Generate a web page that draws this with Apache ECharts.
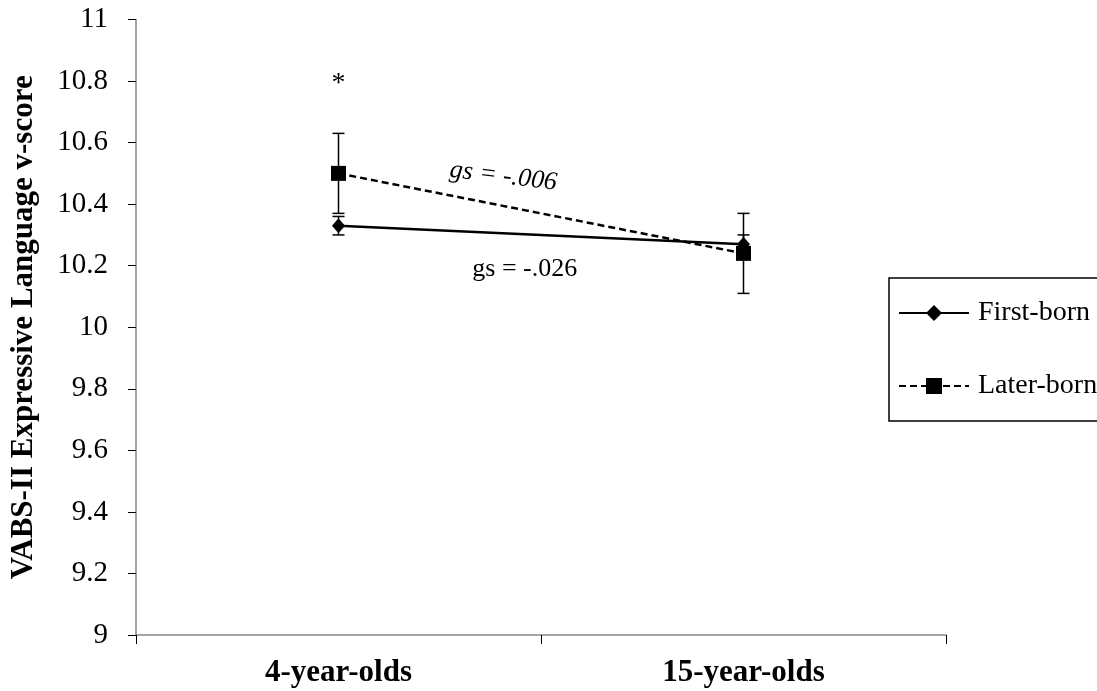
<!DOCTYPE html>
<html>
<head>
<meta charset="utf-8">
<title>VABS-II Expressive Language</title>
<script src="https://cdn.jsdelivr.net/npm/echarts@6/dist/echarts.min.js"></script>
<style>
  html, body { margin: 0; padding: 0; background: #fff; }
  #chart { width: 1097px; height: 691px; }
</style>
</head>
<body>
<div id="chart"></div>
<script>
// values
var categories = ['4-year-olds', '15-year-olds'];
var firstBorn = [10.33, 10.27];
var laterBorn = [10.50, 10.24];
var firstBornErr = [0.03, 0.03];
var laterBornErr = [0.13, 0.13];
var yTicks = { min: 9, max: 11, step: 0.2 };

var serif = '"Liberation Serif", "Times New Roman", serif';

// vertical error bar with caps, one per category
function errorBars(values, errs) {
  return {
    type: 'custom',
    silent: true,
    z: 1,
    data: values.map(function (v, i) {
      return [i, v - errs[i], v + errs[i]];
    }),
    renderItem: function (params, api) {
      var lo = api.coord([api.value(0), api.value(1)]);
      var hi = api.coord([api.value(0), api.value(2)]);
      var half = 6;
      var st = { stroke: '#000', lineWidth: 1.5 };
      return {
        type: 'group',
        children: [
          { type: 'line', shape: { x1: hi[0], y1: hi[1], x2: lo[0], y2: lo[1] }, style: st },
          { type: 'line', shape: { x1: hi[0] - half, y1: hi[1], x2: hi[0] + half, y2: hi[1] }, style: st },
          { type: 'line', shape: { x1: lo[0] - half, y1: lo[1], x2: lo[0] + half, y2: lo[1] }, style: st }
        ]
      };
    }
  };
}

var chart = echarts.init(document.getElementById('chart'));

var option = {
  backgroundColor: '#fff',
  animation: false,
  grid: { left: 134, right: 151, top: 19.5, bottom: 56, containLabel: false },
  legend: {
    data: ['First-born', 'Later-born'],
    orient: 'vertical',
    left: 889,
    top: 278,
    padding: [21, 40, 21, 9],
    itemWidth: 70,
    itemHeight: 20,
    itemGap: 45,
    borderColor: '#000',
    borderWidth: 1.5,
    borderRadius: 0,
    textStyle: { fontFamily: serif, fontSize: 28, color: '#000', padding: [0, 0, 0, 4] }
  },
  xAxis: {
    type: 'category',
    data: categories,
    boundaryGap: true,
    axisLine: { show: true, lineStyle: { color: '#868686', width: 1.5 } },
    axisTick: { show: true, alignWithLabel: false, length: 9, lineStyle: { color: '#000', width: 1 } },
    axisLabel: { fontFamily: serif, fontSize: 31, fontWeight: 'bold', color: '#000', margin: 22 },
    splitLine: { show: false }
  },
  yAxis: {
    type: 'value',
    min: yTicks.min,
    max: yTicks.max,
    interval: yTicks.step,
    name: 'VABS-II Expressive Language v-score',
    nameLocation: 'middle',
    nameGap: 97,
    nameTextStyle: { fontFamily: serif, fontSize: 31, fontWeight: 'bold', color: '#000' },
    axisLine: { show: true, lineStyle: { color: '#868686', width: 1.5 } },
    axisTick: { show: true, length: 8, lineStyle: { color: '#000', width: 1 } },
    axisLabel: {
      fontFamily: serif, fontSize: 29, color: '#000', margin: 28,
      formatter: function (v) { return String(Math.round(v * 10) / 10); }
    },
    splitLine: { show: false }
  },
  series: [
    errorBars(firstBorn, firstBornErr),
    errorBars(laterBorn, laterBornErr),
    {
      name: 'First-born',
      type: 'line',
      data: firstBorn,
      z: 3,
      symbol: 'diamond',
      symbolSize: [13, 15],
      itemStyle: { color: '#000' },
      lineStyle: { color: '#000', width: 2.5, type: 'solid' }
    },
    {
      name: 'Later-born',
      type: 'line',
      data: laterBorn,
      z: 3,
      symbol: 'rect',
      symbolSize: 15,
      itemStyle: { color: '#000' },
      lineStyle: { color: '#000', width: 2.5, type: [7, 4] }
    }
  ]
};

chart.setOption(option);

// annotations placed in data space (category index, value)
function at(catPos, value) {
  var a = chart.convertToPixel({ gridIndex: 0 }, [0, value]);
  var b = chart.convertToPixel({ gridIndex: 0 }, [1, value]);
  return [a[0] + (b[0] - a[0]) * catPos, a[1]];
}

var star = at(0, 10.79);
var gsLater = at(0.407, 10.49);
var gsFirst = at(0.46, 10.19);

chart.setOption({
  graphic: [
    {
      type: 'text', x: star[0], y: star[1],
      style: { text: '*', fontFamily: serif, fontSize: 28, fill: '#000', align: 'center', verticalAlign: 'middle' }
    },
    {
      type: 'text', x: gsLater[0], y: gsLater[1], rotation: -7 * Math.PI / 180,
      style: { text: 'gs = -.006', fontFamily: serif, fontSize: 26, fontStyle: 'italic', fill: '#000', align: 'center', verticalAlign: 'middle' }
    },
    {
      type: 'text', x: gsFirst[0], y: gsFirst[1],
      style: { text: 'gs = -.026', fontFamily: serif, fontSize: 26, fill: '#000', align: 'center', verticalAlign: 'middle' }
    }
  ]
});
</script>
</body>
</html>
